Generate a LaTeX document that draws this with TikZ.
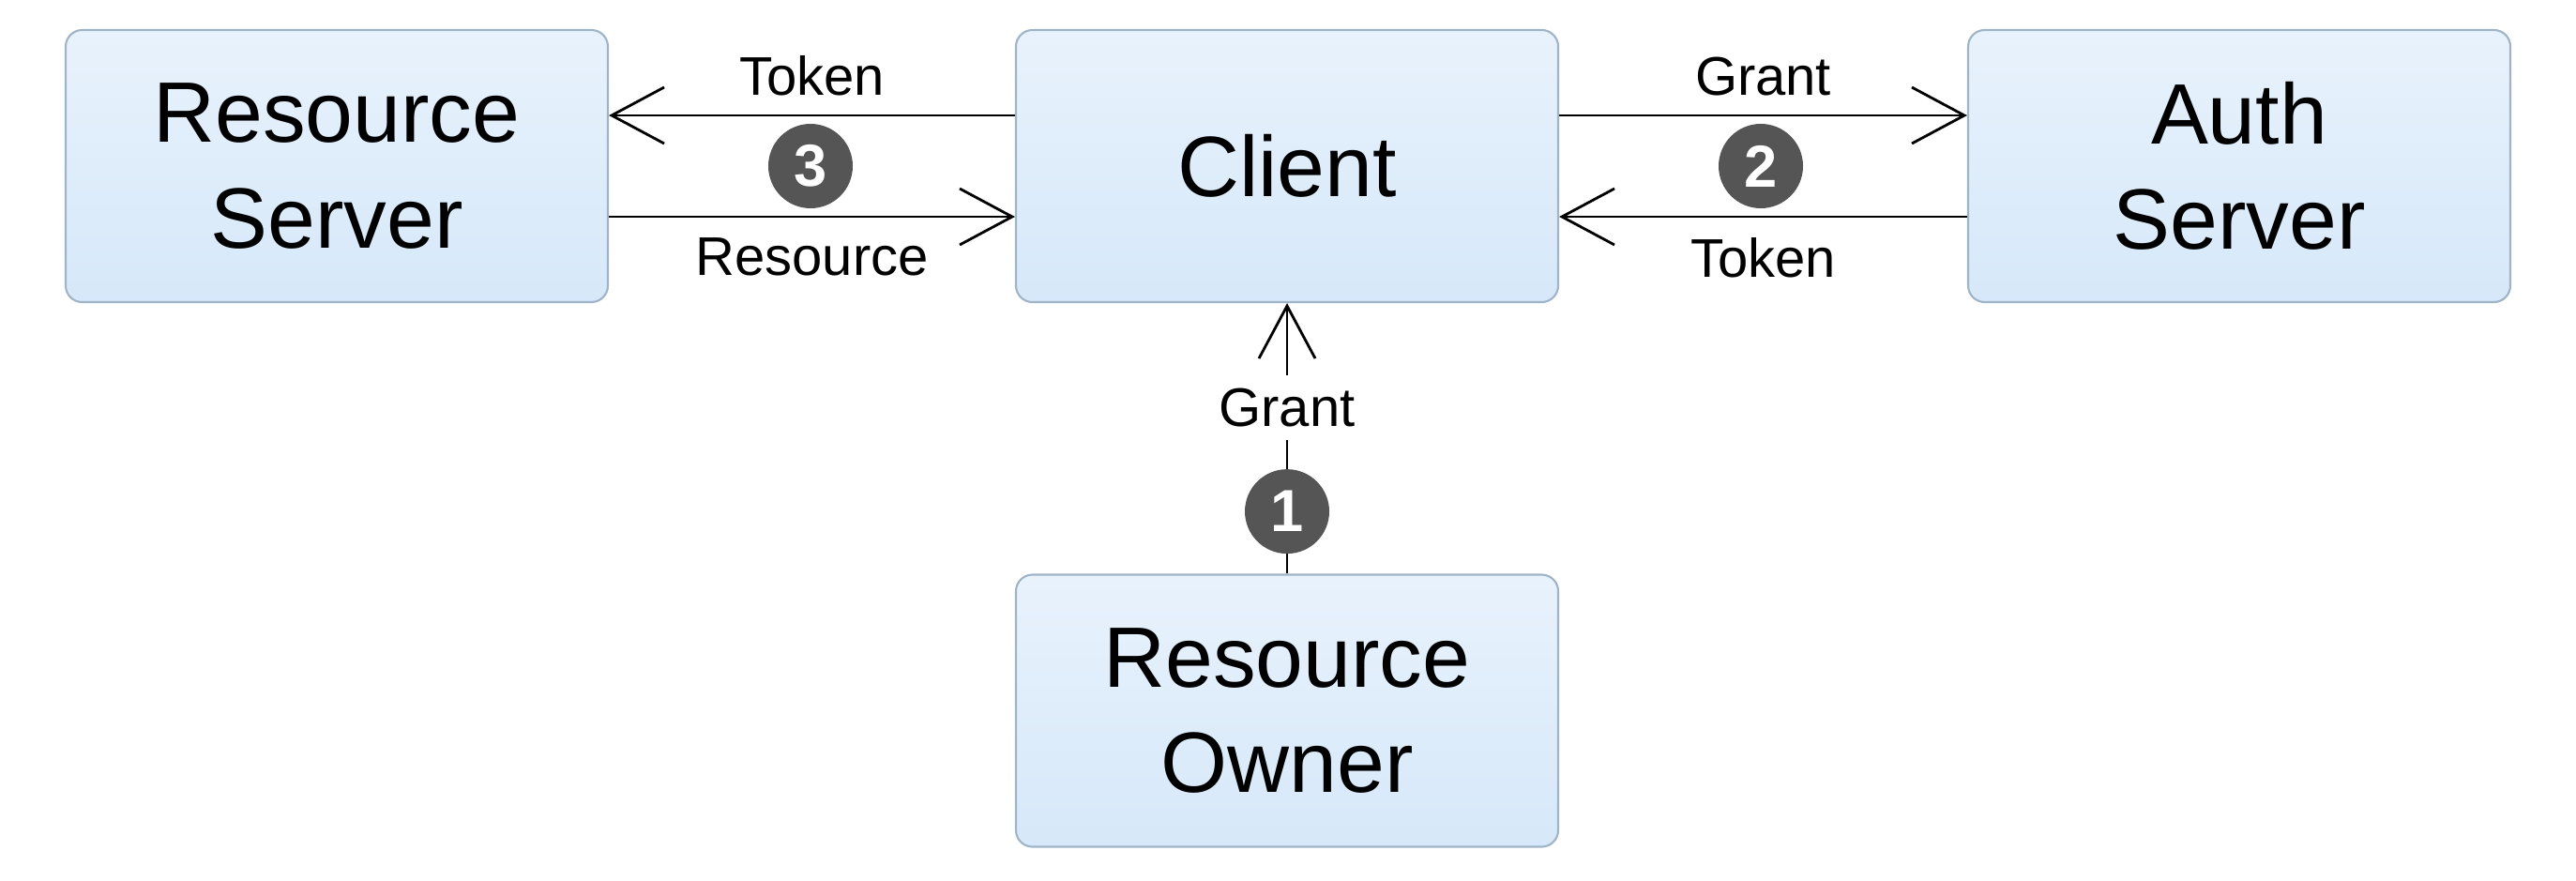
\documentclass[tikz,border=0pt]{standalone}
\usepackage{fontspec}
\setmainfont{Liberation Sans}
\usetikzlibrary{arrows.meta}
\definecolor{boxtop}{RGB}{232,242,252}
\definecolor{boxbot}{RGB}{214,232,249}
\definecolor{boxrim}{RGB}{160,180,200}
\definecolor{numgray}{RGB}{85,85,85}

\begin{document}
\begin{tikzpicture}[line width=0.8pt,
  party/.style={draw=boxrim, line width=0.6pt, rounded corners=5pt,
    top color=boxtop, bottom color=boxbot, minimum width=5.78cm,
    minimum height=2.9cm, align=center, inner sep=0pt,
    font=\fontsize{26}{32}\selectfont},
  flow/.style={-{Straight Barb[length=0.56cm, width=0.6cm]}},
  lbl/.style={inner sep=0pt, font=\fontsize{16.5}{20}\selectfont},
  num/.style={circle, fill=numgray, text=white, inner sep=0pt,
    minimum size=0.9cm, font=\fontsize{18}{20}\selectfont\bfseries}]
  \useasboundingbox (0,0) rectangle (27.46,-9.38);

  \node[party] (rs)     at (3.59,-1.77)  {Resource\\Server};
  \node[party] (client) at (13.72,-1.77) {Client};
  \node[party] (auth)   at (23.87,-1.77) {Auth\\Server};
  \node[party] (owner)  at (13.72,-7.575) {Resource\\Owner};

  \draw[flow] ([yshift=0.54cm]client.west) -- node[lbl, above=5.5pt] (tok3) {Token} ([yshift=0.54cm]rs.east);
  \draw[flow] ([yshift=-0.54cm]rs.east) -- node[lbl, below=6pt] (res3) {Resource} ([yshift=-0.54cm]client.west);
  \node[num] (n3) at (8.64,-1.77) {3};

  \draw[flow] ([yshift=0.54cm]client.east) -- node[lbl, above=5.5pt] (gr2) {Grant} ([yshift=0.54cm]auth.west);
  \draw[flow] ([yshift=-0.54cm]auth.west) -- node[lbl, below=6pt] (tok2) {Token} ([yshift=-0.54cm]client.east);
  \node[num] (n2) at (18.77,-1.77) {2};

  \draw[flow] (owner.north) -- node[lbl, fill=white, inner sep=4pt, pos=0.615] (gr1) {Grant}
    node[num, pos=0.23] (n1) {1} (client.south);
\end{tikzpicture}
\end{document}
